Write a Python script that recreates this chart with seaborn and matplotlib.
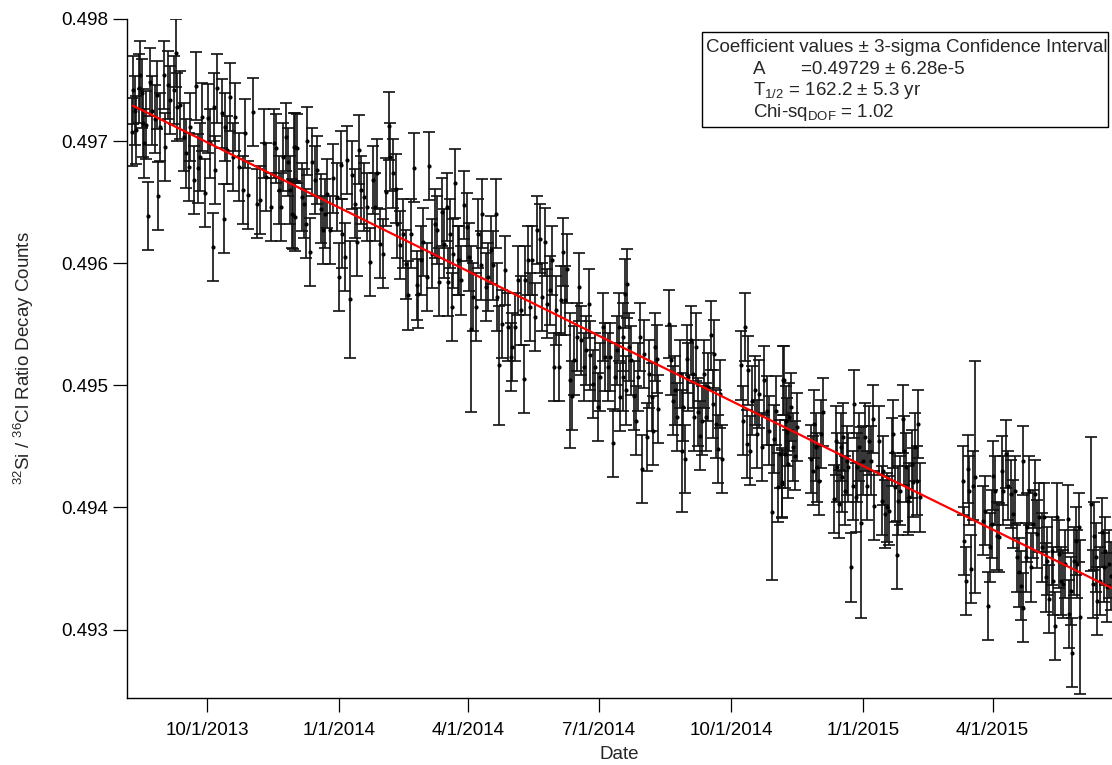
import numpy as np
import pandas as pd
import matplotlib
matplotlib.use("Agg")
import matplotlib.pyplot as plt
import matplotlib.dates as mdates
from matplotlib.patches import Rectangle
from matplotlib.ticker import FixedLocator, FuncFormatter
import seaborn as sns

# ---------------------------------------------------------------------------
# Measurements: days counted from 2013-08-01, 32Si/36Cl decay-count ratio.
# Regular runs carry a 1-sigma uncertainty of SIGMA; longer bars listed apart.
# ---------------------------------------------------------------------------
EPOCH = pd.Timestamp("2013-08-01")
SIGMA = 0.00028

days_2013a = [8.8, 9.5, 10.6, 11.8, 13.4, 14.1, 15.7, 16.5, 17.4, 18.7, 19.9, 21.5,
              22.8, 24.5, 26.2, 26.9, 28.5, 30.8, 32.0, 33.6, 35.0, 37.8, 39.4, 40.1,
              42.4, 44.8, 46.6, 48.2, 49.4, 51.7, 53.6, 54.7, 55.9, 57.5, 59.8, 61.5,
              63.3, 64.9, 66.1, 66.8, 68.0, 71.4, 72.6, 73.3, 75.0, 77.3, 79.1, 80.7,
              83.1, 86.1, 87.7, 89.3, 93.0, 95.8, 97.7, 100.5, 102.3, 105.6, 107.4,
              109.3, 111.1, 112.5, 113.9, 116.3, 117.2, 119.0, 120.2, 121.3, 122.5]
ratio_2013a = [0.497076, 0.497418, 0.497250, 0.497090, 0.497432, 0.497541, 0.497391,
               0.497150, 0.496981, 0.497131, 0.496387, 0.497486, 0.497250, 0.497180,
               0.497377, 0.496549, 0.497117, 0.497541, 0.496953, 0.497459, 0.497336,
               0.497418, 0.497724, 0.497281, 0.497295, 0.497035, 0.496899, 0.496789,
               0.497117, 0.496680, 0.497451, 0.496776, 0.496871, 0.497199, 0.496576,
               0.497186, 0.496981, 0.496133, 0.497281, 0.496762, 0.497432, 0.497227,
               0.496366, 0.497117, 0.496926, 0.497363, 0.496871, 0.497199, 0.496789,
               0.496598, 0.497063, 0.496557, 0.497240, 0.496489, 0.496516, 0.496981,
               0.496707, 0.496461, 0.496981, 0.496940, 0.496598, 0.496461, 0.496871,
               0.497035, 0.496830, 0.496598, 0.496407, 0.496953, 0.496380]

days_2013b = [121.1, 122.3, 123.9, 126.9, 128.5, 129.9, 130.9, 132.7, 133.9, 136.2,
              137.8, 140.2, 142.0, 143.2, 144.8, 146.7, 148.5, 151.3, 153.2, 154.1,
              154.8, 157.1, 158.8, 161.8, 164.1, 165.3, 166.9, 168.3, 170.4, 172.7,
              174.5, 176.4, 178.0, 179.7, 181.5, 183.4, 185.7, 187.5, 188.5, 190.3,
              192.6, 193.6, 195.4, 197.8, 199.6, 201.2, 202.9, 205.2, 207.1, 208.2,
              209.8, 211.7, 214.0, 215.9, 217.5, 219.8, 221.4, 222.8, 224.5, 226.1,
              228.0, 229.1, 230.3, 231.4, 232.6, 233.7, 236.1]
ratio_2013b = [0.496393, 0.496953, 0.496940, 0.496543, 0.496489, 0.496325, 0.497000,
               0.496092, 0.496830, 0.496680, 0.496762, 0.496448, 0.496270, 0.496407,
               0.496571, 0.496270, 0.496694, 0.496543, 0.495887, 0.496803, 0.496243,
               0.496051, 0.496844, 0.496721, 0.496489, 0.496174, 0.496931, 0.496598,
               0.496543, 0.496461, 0.496010, 0.496680, 0.496461, 0.496735, 0.496161,
               0.496079, 0.496584, 0.497123, 0.496871, 0.496735, 0.496612, 0.496325,
               0.496147, 0.496243, 0.495991, 0.495737, 0.496243, 0.496784, 0.495819,
               0.495751, 0.496024, 0.496174, 0.495887, 0.496795, 0.496079, 0.496325,
               0.496270, 0.495846, 0.496420, 0.496161, 0.496461, 0.495846, 0.496243,
               0.495641, 0.496079, 0.496653, 0.496024]

days_2014a = [236.5, 237.9, 240.2, 241.9, 243.5, 246.5, 248.2, 250.0, 251.9, 252.8,
              255.1, 257.0, 258.8, 260.5, 262.1, 263.0, 266.2, 268.6, 270.9, 272.8,
              273.7, 275.6, 277.4, 279.7, 281.4, 282.5, 284.4, 286.0, 287.2, 289.5,
              290.7, 293.0, 294.6, 296.5, 297.6, 300.0, 301.1, 302.8, 304.2, 305.8,
              307.6, 308.8, 310.4, 312.0, 315.0, 316.9, 318.5, 320.1, 321.5, 323.2,
              324.8, 326.7, 327.9, 329.5, 331.4, 333.2, 334.9, 336.5, 338.4, 340.2,
              341.9, 343.9, 344.9, 346.5, 347.7, 348.8, 350.5]
ratio_2014a = [0.496024, 0.495860, 0.496475, 0.496297, 0.496051, 0.495723, 0.495641,
               0.496243, 0.495983, 0.496407, 0.495805, 0.495887, 0.496106, 0.495983,
               0.496407, 0.495723, 0.495505, 0.495942, 0.495477, 0.495231, 0.495312,
               0.495477, 0.495860, 0.495614, 0.495054, 0.495860, 0.496024, 0.495641,
               0.496024, 0.495559, 0.496270, 0.496202, 0.495723, 0.496174, 0.495669,
               0.495778, 0.496024, 0.495149, 0.495614, 0.495149, 0.495696, 0.496092,
               0.495696, 0.495956, 0.494917, 0.495204, 0.495395, 0.495805, 0.495368,
               0.495149, 0.495286, 0.495669, 0.495245, 0.495013, 0.495149, 0.494821,
               0.495067, 0.495477, 0.495231, 0.495149, 0.495231, 0.494526, 0.495067,
               0.495286, 0.495477, 0.494903, 0.495067]

days_2014b = [350.9, 352.1, 352.8, 353.6, 355.0, 356.6, 358.2, 359.6, 361.2, 362.8,
              363.9, 365.3, 367.6, 369.0, 370.6, 371.8, 373.2, 374.1, 375.3, 382.7,
              383.9, 385.3, 386.9, 388.5, 390.4, 392.7, 393.8, 395.0, 396.2, 397.8,
              399.2, 400.1, 401.5, 402.7, 404.3, 405.5, 407.1, 408.5, 410.1, 411.7,
              413.1, 414.1, 415.4, 417.1, 418.2, 419.6, 432.6, 434.0, 435.6, 436.8,
              437.9, 439.1, 440.5, 442.6, 444.2, 445.6, 447.2, 448.8, 450.7, 452.5,
              455.8, 457.2, 458.8, 460.0, 461.6, 462.8, 464.2, 465.8]
ratio_2014b = [0.495395, 0.495751, 0.494958, 0.495833, 0.495313, 0.495204, 0.494917,
               0.494712, 0.495067, 0.495395, 0.494316, 0.495259, 0.494575, 0.495095,
               0.494903, 0.494630, 0.495313, 0.495217, 0.494808, 0.495505, 0.495204,
               0.494876, 0.494958, 0.494739, 0.495095, 0.494821, 0.494398, 0.495217,
               0.495067, 0.495368, 0.495095, 0.494739, 0.495313, 0.494780, 0.494589,
               0.494712, 0.495095, 0.494739, 0.494985, 0.495409, 0.494849, 0.495259,
               0.494685, 0.494480, 0.494931, 0.494398, 0.495163, 0.494712, 0.495477,
               0.494521, 0.495122, 0.494466, 0.494876, 0.494958, 0.494603, 0.494931,
               0.494493, 0.495040, 0.494794, 0.494630, 0.494562, 0.494794, 0.494165,
               0.494439, 0.494193, 0.495040, 0.494712, 0.494357]

days_2014c = [461.2, 462.4, 463.5, 465.1, 466.5, 467.5, 468.9, 470.5, 471.7, 481.4,
              482.8, 483.7, 485.1, 486.0, 487.4, 488.3, 489.7, 497.6, 499.0, 499.9,
              500.9, 502.3, 503.2, 504.1, 505.5, 506.4, 507.6, 509.7, 510.6, 511.5,
              512.9, 513.8, 514.8, 517.6, 519.2, 520.8, 522.2, 523.1, 524.5, 525.5,
              529.2, 530.8, 532.0, 533.4, 534.8, 536.2, 537.8, 538.9, 539.9, 541.3,
              542.4, 543.6, 545.5, 546.4, 547.8, 548.9, 550.1, 551.7, 552.8, 554.0,
              555.1, 556.3, 557.4]
ratio_2014c = [0.494206, 0.495040, 0.494439, 0.494616, 0.494739, 0.494821, 0.494493,
               0.494425, 0.494657, 0.494398, 0.494302, 0.494685, 0.494493, 0.494329,
               0.494220, 0.494603, 0.494780, 0.494070, 0.494548, 0.494329, 0.494029,
               0.494493, 0.494247, 0.494575, 0.494138, 0.494384, 0.494329, 0.493509,
               0.494179, 0.494849, 0.494083, 0.494329, 0.494493, 0.494384, 0.494575,
               0.494179, 0.494548, 0.494384, 0.494726, 0.494015, 0.494548, 0.494056,
               0.494302, 0.493947, 0.494001, 0.493974, 0.494452, 0.494603, 0.494165,
               0.493613, 0.494056, 0.494138, 0.494726, 0.494466, 0.494329, 0.494056,
               0.494083, 0.494357, 0.494206, 0.494493, 0.494220, 0.494685, 0.494083]

days_2015 = [587.7, 588.4, 589.6, 590.7, 591.9, 593.1, 594.2, 601.1, 602.8, 604.6,
             606.3, 607.4, 608.6, 609.8, 611.4, 612.8, 614.4, 615.6, 617.5, 619.1,
             620.7, 622.1, 623.7, 624.9, 626.5, 627.7, 629.1, 629.5, 631.4, 632.3,
             633.7, 634.6, 636.0, 637.6, 638.8, 640.6, 642.3, 643.9, 645.3, 646.2,
             647.6, 649.2, 650.4, 651.5, 652.7, 654.6, 655.5, 656.9, 658.5, 660.4,
             661.5, 662.7, 663.6, 665.0, 666.2, 667.1, 668.5, 677.8, 678.8, 680.2,
             681.1, 682.5, 684.1, 685.3, 686.5, 687.6, 688.8, 690.4]
ratio_2015 = [0.494220, 0.493728, 0.493400, 0.494316, 0.494138, 0.493496, 0.494179,
              0.493892, 0.493974, 0.493192, 0.493673, 0.493865, 0.494261, 0.494138,
              0.493769, 0.493755, 0.494302, 0.494138, 0.494439, 0.494179, 0.494111,
              0.493947, 0.494138, 0.493591, 0.493468, 0.493361, 0.494384, 0.493181,
              0.493591, 0.493837, 0.494138, 0.493509, 0.493865, 0.494111, 0.493783,
              0.493919, 0.493673, 0.493919, 0.493427, 0.493564, 0.493250, 0.493646,
              0.493400, 0.493031, 0.493919, 0.493619, 0.493400, 0.493373, 0.493537,
              0.493906, 0.493127, 0.493318, 0.492812, 0.493564, 0.493728, 0.493537,
              0.493837, 0.493373, 0.493769, 0.493591, 0.493236, 0.493400, 0.493796,
              0.493509, 0.493646, 0.493345, 0.493537, 0.493441]

# Runs with wider uncertainty
wide_days = [160.9, 245.1, 264.0, 313.8, 391.5, 454.6, 516.6, 595.6, 669.0, 676.7]
wide_ratio = [0.495704, 0.495458, 0.495163, 0.495040, 0.494466, 0.493960, 0.493875,
              0.494253, 0.493105, 0.494029]
wide_sigma = [0.00048, 0.00068, 0.00049, 0.00055, 0.00050, 0.00055, 0.00078,
              0.00095, 0.00063, 0.00055]

# Fitted decay: ratio = A * exp(-ln2 * t / T_half), t from the first run
FIT_A = 0.49729
FIT_THALF_YR = 162.2
FIT_START_DAY = 9.5
FIT_END_DAY = 700.0

tick_dates = ["2013-10-01", "2014-01-01", "2014-04-01", "2014-07-01",
              "2014-10-01", "2015-01-01", "2015-04-01"]
y_ticks = [0.493, 0.494, 0.495, 0.496, 0.497, 0.498]

# ---------------------------------------------------------------------------
reg_days = days_2013a + days_2013b + days_2014a + days_2014b + days_2014c + days_2015
reg_ratio = ratio_2013a + ratio_2013b + ratio_2014a + ratio_2014b + ratio_2014c + ratio_2015

df = pd.DataFrame({
    "day": reg_days + wide_days,
    "ratio": reg_ratio + wide_ratio,
    "sigma": [SIGMA] * len(reg_days) + wide_sigma,
})
df["date"] = EPOCH + pd.to_timedelta(df["day"], unit="D")
df = df.sort_values("date").reset_index(drop=True)

fit_days = np.linspace(FIT_START_DAY, FIT_END_DAY, 300)
fit_ratio = FIT_A * np.exp(-np.log(2) * (fit_days - FIT_START_DAY) / 365.25 / FIT_THALF_YR)
fit_df = pd.DataFrame({"date": EPOCH + pd.to_timedelta(fit_days, unit="D"),
                       "ratio": fit_ratio})

sns.set_theme(style="ticks")
plt.rcParams["font.family"] = ["Liberation Sans", "DejaVu Sans"]
plt.rcParams["mathtext.fontset"] = "custom"
plt.rcParams["mathtext.rm"] = "Liberation Sans"
plt.rcParams["mathtext.it"] = "Liberation Sans:italic"
plt.rcParams["mathtext.bf"] = "Liberation Sans:bold"

W, H = 1112, 765
fig = plt.figure(figsize=(W / 100, H / 100), dpi=100)
fig.patch.set_facecolor("white")
ax = fig.add_axes([127.4 / W, 1 - 698 / H, (W - 127.4) / W, (698 - 19) / H])
ax.set_facecolor("white")

ax.errorbar(df["date"], df["ratio"], yerr=df["sigma"], fmt="none",
            ecolor="#111111", elinewidth=1.2, capsize=4.3, capthick=1.2, zorder=2)
sns.scatterplot(data=df, x="date", y="ratio", ax=ax, color="black", s=9,
                linewidth=0, zorder=3, legend=False)
sns.lineplot(data=fit_df, x="date", y="ratio", ax=ax, color="red",
             linewidth=1.6, zorder=4)

ax.set_xlim(EPOCH + pd.Timedelta(days=5.57), EPOCH + pd.Timedelta(days=691.2))
ax.set_ylim(0.49244, 0.498)

ax.xaxis.set_major_locator(FixedLocator(mdates.date2num(pd.to_datetime(tick_dates))))
ax.xaxis.set_major_formatter(FuncFormatter(
    lambda v, pos: (lambda d: f"{d.month}/{d.day}/{d.year}")(mdates.num2date(v))))
ax.set_yticks(y_ticks)
ax.yaxis.set_major_formatter(FuncFormatter(lambda v, pos: f"{v:.3f}"))

for side in ("top", "right"):
    ax.spines[side].set_visible(False)
for side in ("left", "bottom"):
    ax.spines[side].set_linewidth(1.0)
    ax.spines[side].set_color("black")
ax.tick_params(axis="both", direction="out", length=10, width=0.9, color="black",
               labelsize=13.5, labelcolor="black")
ax.tick_params(axis="y", pad=4)
ax.tick_params(axis="x", pad=7)
ax.grid(False)

ax.set_xlabel("Date", fontsize=13.5, labelpad=5)
ax.set_ylabel(r"$^{32}$Si / $^{36}$Cl Ratio Decay Counts", fontsize=13.5, labelpad=18)

# Fit summary box
def fx(px):
    return px / W

def fy(py):
    return 1 - py / H

fig.patches.append(Rectangle((fx(702), fy(127)), fx(1108) - fx(702), fy(32) - fy(127),
                             transform=fig.transFigure, facecolor="white",
                             edgecolor="black", linewidth=1.0, zorder=5))
box_kw = dict(fontsize=13.5, va="baseline", ha="left", zorder=6)
fig.text(fx(706), fy(52), "Coefficient values \u00b1 3-sigma Confidence Interval", **box_kw)
fig.text(fx(753), fy(73.5), "A", **box_kw)
fig.text(fx(801), fy(73.5), "=0.49729 \u00b1 6.28e-5", **box_kw)
fig.text(fx(753), fy(95), r"T$_{\mathrm{1/2}}$ = 162.2 $\pm$ 5.3 yr", **box_kw)
fig.text(fx(753), fy(117), r"Chi-sq$_{\mathrm{DOF}}$ = 1.02", **box_kw)

fig.savefig("out.png", dpi=100, facecolor="white")
